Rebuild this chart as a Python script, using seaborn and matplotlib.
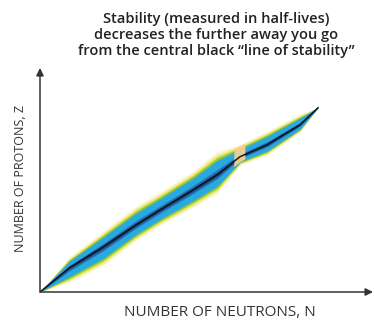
"""
Chart of nuclides: band of stability, number of protons vs number of neutrons.
"""

import matplotlib
matplotlib.use("Agg")
import matplotlib.pyplot as plt
import seaborn as sns
import pandas as pd

# DATA
neutrons = [0, 18.6, 40.3, 61.4, 76.8, 97.9, 113.3, 128.0, 145.3, 166.4, 178.0]
z_center = [0, 15.4, 28.8, 42.9, 52.5, 65.3, 74.9, 86.4, 94.1, 106.9, 117.8]
z_upper = [0, 21.8, 38.4, 54.4, 63.4, 76.8, 89.0, 94.0, 102.4, 113.3, 117.8]
z_lower = [0, 6.4, 17.3, 33.3, 42.9, 54.4, 63.4, 81.3, 87.7, 102.4, 117.8]

# small yellow/pink patch near the N=126 shell closure
patch_n = [124.0, 127.0, 131.0]
patch_lo = [80.0, 82.5, 85.0]
patch_hi = [91.5, 93.0, 95.0]

TITLE = ('Stability (measured in half-lives)\n'
         'decreases the further away you go\n'
         'from the central black \u201cline of stability\u201d')

# layers from outside in: (share of half-width, colour)
LAYERS = [(1.05, '#fbf6e2'), (0.95, '#f3eea8'), (0.86, '#e7e54c'),
          (0.76, '#8cc63f'), (0.64, '#2aa9e0'), (0.22, '#1f70b2'),
          (0.09, '#1a3a66')]


def main():
    sns.set_style('white')
    plt.rcParams['font.family'] = ['Open Sans', 'DejaVu Sans']

    df = pd.DataFrame({'N': neutrons, 'Z': z_center,
                       'up': z_upper, 'lo': z_lower})

    fig = plt.figure(figsize=(3.74, 3.24), dpi=100)
    ax = fig.add_axes([40 / 374, 32 / 324, 333 / 374, 224 / 324])
    ax.set_xlim(0, 213)
    ax.set_ylim(0, 143)

    for share, colour in LAYERS:
        top = df['Z'] + share * (df['up'] - df['Z'])
        bot = df['Z'] - share * (df['Z'] - df['lo'])
        ax.fill_between(df['N'], bot, top, color=colour, lw=0)

    ax.fill_between(patch_n, patch_lo, patch_hi, color='#f5cf8e', lw=0, alpha=0.95)

    sns.lineplot(data=df, x='N', y='Z', ax=ax, color='#0b0f18', lw=1.0)

    # axes drawn as arrows
    for s in ax.spines.values():
        s.set_visible(False)
    ax.set_xticks([])
    ax.set_yticks([])
    ax.set_xlabel('')
    ax.set_ylabel('')
    arrow = dict(arrowstyle='-|>', color='#333333', lw=1.1, mutation_scale=11,
                 shrinkA=0, shrinkB=0)
    ax.annotate('', xy=(1, 0), xytext=(0, 0), xycoords='axes fraction',
                arrowprops=arrow)
    ax.annotate('', xy=(0, 1), xytext=(0, 0), xycoords='axes fraction',
                arrowprops=arrow)

    fig.text(216 / 374, 1 - 35 / 324, TITLE, ha='center', va='center',
             fontsize=10.5, fontweight='semibold', color='#222222',
             linespacing=1.2)
    fig.text(220 / 374, 1 - 312 / 324, 'NUMBER OF NEUTRONS, N', ha='center',
             va='center', fontsize=11, color='#333333')
    fig.text(21 / 374, 1 - 178 / 324, 'NUMBER OF PROTONS, Z', ha='center',
             va='center', rotation=90, fontsize=9, color='#333333')

    fig.savefig('out.png', dpi=100)


if __name__ == '__main__':
    main()
